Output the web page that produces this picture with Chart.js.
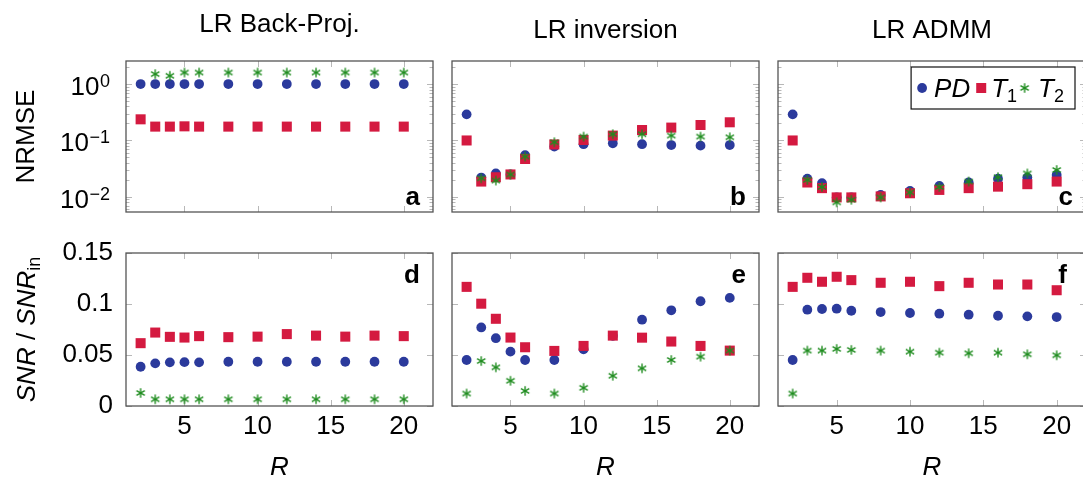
<!DOCTYPE html>
<html><head><meta charset="utf-8">
<script src="https://cdn.jsdelivr.net/npm/chart.js@4"></script>
<style>
html,body{margin:0;padding:0;background:#fff;overflow:hidden}
#wrap{position:relative;width:1083px;height:483px;overflow:hidden;background:#fff}
#wrap canvas{position:absolute;left:0;top:0}
</style></head><body><div id="wrap"></div>
<script>
// ---------------- data ----------------
const R = [2,3,4,5,6,8,10,12,14,16,18,20];
const xTicks = [5,10,15,20];
const nrmseTicks = [1, 0.1, 0.01];
const snrTicks = [0, 0.05, 0.1, 0.15];
const snrTickLabels = ['0','0.05','0.1','0.15'];
const columnTitles = ['LR Back-Proj.','LR inversion','LR ADMM'];
const panelLetters = [['a','b','c'],['d','e','f']];
const seriesNames = ['PD','T1','T2'];
const yTitleTop = 'NRMSE';
const xTitle = 'R';

// NRMSE (top row)
const bpNrmsePD = [1.0,1.0,1.0,1.0,1.0,1.0,1.0,1.0,1.0,1.0,1.0,1.0];
const bpNrmseT1 = [0.237,0.176,0.176,0.178,0.176,0.176,0.176,0.176,0.176,0.176,0.176,0.176];
const bpNrmseT2 = [null,1.5,1.4,1.6,1.6,1.6,1.6,1.6,1.6,1.6,1.6,1.6];

const invNrmsePD = [0.29,0.022,0.026,0.025,0.055,0.078,0.086,0.089,0.086,0.083,0.081,0.083];
const invNrmseT1 = [0.1,0.0187,0.0223,0.025,0.047,0.085,0.102,0.122,0.153,0.169,0.188,0.21];
const invNrmseT2 = [null,0.0214,0.0195,0.025,0.052,0.093,0.117,0.129,0.129,0.122,0.117,0.114];

const admmNrmsePD = [0.29,0.021,0.0175,0.0098,0.0098,0.0108,0.0128,0.0157,0.018,0.021,0.022,0.0245];
const admmNrmseT1 = [0.1,0.018,0.0143,0.0098,0.0098,0.0102,0.0116,0.0133,0.0143,0.0152,0.0168,0.0187];
const admmNrmseT2 = [null,0.02,0.015,0.008,0.0089,0.0098,0.012,0.015,0.0187,0.0223,0.026,0.030];

// SNR / SNR_in (bottom row)
const bpSnrPD = [0.0385,0.0418,0.0428,0.043,0.0428,0.0434,0.0434,0.0434,0.0434,0.0434,0.0434,0.0434];
const bpSnrT1 = [0.0616,0.072,0.0678,0.0671,0.0685,0.0675,0.068,0.0705,0.069,0.068,0.069,0.0685];
const bpSnrT2 = [0.0128,0.0066,0.0066,0.0066,0.0066,0.0066,0.0066,0.0066,0.0066,0.0066,0.0066,0.0066];

const invSnrPD = [0.0451,0.077,0.0665,0.0533,0.0451,0.0451,0.0556,0.0688,0.0846,0.0938,0.1027,0.106];
const invSnrT1 = [0.1168,0.1003,0.0855,0.0671,0.0576,0.054,0.0589,0.069,0.067,0.0632,0.0589,0.0543];
const invSnrT2 = [0.0122,0.0441,0.0379,0.0247,0.0148,0.0122,0.0178,0.0296,0.0369,0.0451,0.0484,0.0543];

const admmSnrPD = [0.0451,0.0944,0.0951,0.0954,0.0934,0.0921,0.0912,0.0905,0.0895,0.0885,0.0879,0.0872];
const admmSnrT1 = [0.1168,0.1257,0.1218,0.1267,0.1234,0.1208,0.1218,0.1175,0.1208,0.1191,0.1191,0.1135];
const admmSnrT2 = [0.0122,0.0543,0.0543,0.056,0.055,0.0543,0.0533,0.0523,0.0517,0.0523,0.0507,0.0497];

// ---------------- style / layout ----------------
const FONT = '"Liberation Sans", Arial, Helvetica, sans-serif';
const BLUE = '#2b3a9c', RED = '#d41a40', GREEN = '#1f8c1f';
const FRAME = '#555555', TICKC = '#b8b8b8';
const W = 1100, H = 483;
const colX = [[126,433],[452,759],[778,1086]];
const rowY = [[61,212],[253,406]];
const NRMSE_MIN = 0.0054, NRMSE_MAX = 2.56;
const XAXIS_H = 40;

Chart.defaults.font.family = FONT;

const table = [
  [[bpNrmsePD,bpNrmseT1,bpNrmseT2],[invNrmsePD,invNrmseT1,invNrmseT2],[admmNrmsePD,admmNrmseT1,admmNrmseT2]],
  [[bpSnrPD,bpSnrT1,bpSnrT2],[invSnrPD,invSnrT1,invSnrT2],[admmSnrPD,admmSnrT1,admmSnrT2]]
];

function makeAsterisk(color, arm, lw){
  const s = 12;
  const c = document.createElement('canvas'); c.width = s; c.height = s;
  const g = c.getContext('2d'); g.strokeStyle = color; g.lineWidth = lw;
  const cx = s/2, cy = s/2;
  for (const deg of [90, 30, 150]) {
    const r = deg*Math.PI/180;
    g.beginPath();
    g.moveTo(cx - arm*Math.cos(r), cy - arm*Math.sin(r));
    g.lineTo(cx + arm*Math.cos(r), cy + arm*Math.sin(r));
    g.stroke();
  }
  return c;
}
const STAR = makeAsterisk(GREEN, 4.8, 1.4);

function pts(arr){ return R.map((x,i)=>({x:x, y:arr[i]})); }

function drawSupLabel(ctx, xRight, py, exp){
  const supTxt = exp === 0 ? '0' : '\u2212' + Math.abs(exp);
  ctx.font = '18px ' + FONT;
  const ws = ctx.measureText(supTxt).width;
  ctx.fillText(supTxt, xRight - ws, py + 3);
  ctx.font = '26px ' + FONT;
  const wb = ctx.measureText('10').width;
  ctx.fillText('10', xRight - ws - wb - 0.5, py + 11);
}

function drawLegend(ctx, a){
  const cy = a.top + 27;
  ctx.font = 'italic 26px ' + FONT;
  const wPD = ctx.measureText('PD').width;
  const wT = ctx.measureText('T').width;
  ctx.font = '18px ' + FONT;
  const w1 = ctx.measureText('1').width;
  const total = 23 + wPD + 6 + 10 + 5 + wT + w1 + 3 + 9 + 9 + wT + w1 + 11;
  const bx = a.right - 11 - total, by = a.top + 6, bh = 42;
  ctx.fillStyle = '#fff'; ctx.fillRect(bx, by, total, bh);
  ctx.strokeStyle = '#111'; ctx.lineWidth = 1.2; ctx.strokeRect(bx, by, total, bh);
  let x = bx + 11;
  ctx.fillStyle = BLUE; ctx.beginPath(); ctx.arc(x, cy, 4.9, 0, Math.PI*2); ctx.fill();
  x = bx + 23;
  ctx.fillStyle = '#000'; ctx.font = 'italic 26px ' + FONT; ctx.textAlign='left'; ctx.textBaseline='alphabetic';
  ctx.fillText(seriesNames[0], x, cy + 9.3); x += wPD + 6;
  ctx.fillStyle = RED; ctx.fillRect(x, cy - 5, 10, 10); x += 10 + 5;
  ctx.fillStyle = '#000'; ctx.font = 'italic 26px ' + FONT; ctx.fillText('T', x, cy + 9.3); x += wT;
  ctx.font = '18px ' + FONT; ctx.fillText(seriesNames[1].slice(1), x, cy + 13.5); x += w1 + 3;
  ctx.drawImage(STAR, x + 4.5 - 6, cy - 6); x += 9 + 9;
  ctx.font = 'italic 26px ' + FONT; ctx.fillText('T', x, cy + 9.3); x += wT;
  ctx.font = '18px ' + FONT; ctx.fillText(seriesNames[2].slice(1), x, cy + 13.5);
}

function deco(row, col){
  return {
    id: 'deco' + row + col,
    beforeDatasetsDraw(chart){
      const ctx = chart.ctx, a = chart.chartArea, xs = chart.scales.x, ys = chart.scales.y;
      ctx.save();
      ctx.strokeStyle = TICKC; ctx.lineWidth = 1;
      ctx.beginPath();
      for (const v of xTicks) {
        const px = Math.round(xs.getPixelForValue(v)) + 0.5;
        ctx.moveTo(px, a.top); ctx.lineTo(px, a.top + 6);
        ctx.moveTo(px, a.bottom); ctx.lineTo(px, a.bottom - 6);
      }
      if (row === 0) {
        for (let e = -3; e <= 0; e++) for (let k = 1; k <= 9; k++) {
          const v = k * Math.pow(10, e);
          if (v < NRMSE_MIN || v > NRMSE_MAX) continue;
          const len = k === 1 ? 6 : 3.5;
          const py = Math.round(ys.getPixelForValue(v)) + 0.5;
          ctx.moveTo(a.left, py); ctx.lineTo(a.left + len, py);
          ctx.moveTo(a.right, py); ctx.lineTo(a.right - len, py);
        }
      } else {
        for (const v of snrTicks) {
          const py = Math.round(ys.getPixelForValue(v)) + 0.5;
          ctx.moveTo(a.left, py); ctx.lineTo(a.left + 6, py);
          ctx.moveTo(a.right, py); ctx.lineTo(a.right - 6, py);
        }
      }
      ctx.stroke();
      ctx.restore();
    },
    afterDraw(chart){
      const ctx = chart.ctx, a = chart.chartArea, ys = chart.scales.y;
      ctx.save();
      // frame
      ctx.strokeStyle = FRAME; ctx.lineWidth = 1.3;
      ctx.strokeRect(a.left, a.top, a.right - a.left, a.bottom - a.top);
      // panel letter
      ctx.fillStyle = '#000'; ctx.font = 'bold 26px ' + FONT;
      ctx.textAlign = 'right'; ctx.textBaseline = 'alphabetic';
      const letter = panelLetters[row][col];
      ctx.fillText(letter, a.right - (letter === 'f' ? 19 : 13), row === 0 ? a.bottom - 7 : a.top + 30);
      const cx = (a.left + a.right) / 2;
      ctx.textAlign = 'left';
      if (row === 0) {
        // column title
        ctx.font = '26px ' + FONT; ctx.textAlign = 'center';
        const t = columnTitles[col];
        ctx.fillText(t, cx, /j|g|p|q|y/.test(t) ? a.top - 29 : a.top - 23);
        ctx.textAlign = 'left';
        if (col === 0) {
          for (const v of nrmseTicks) {
            drawSupLabel(ctx, a.left - 16, ys.getPixelForValue(v), Math.round(Math.log10(v)));
          }
          ctx.save();
          ctx.translate(33.5, (a.top + a.bottom) / 2);
          ctx.rotate(-Math.PI/2);
          ctx.font = '26px ' + FONT; ctx.textAlign = 'center';
          ctx.fillText(yTitleTop, 0, 0);
          ctx.restore();
        }
        if (col === 2) drawLegend(ctx, a);
      } else {
        // x axis title
        ctx.font = 'italic 26px ' + FONT; ctx.textAlign = 'center';
        ctx.fillText(xTitle, cx, 475);
        ctx.textAlign = 'left';
        if (col === 0) {
          ctx.save();
          ctx.translate(35, (a.top + a.bottom) / 2);
          ctx.rotate(-Math.PI/2);
          const parts = [['SNR','italic 26px ',0],[' / ','26px ',0],['SNR','italic 26px ',0],['in','18px ',5]];
          let tot = 0;
          for (const p of parts) { ctx.font = p[1] + FONT; tot += ctx.measureText(p[0]).width; }
          let x = -tot / 2;
          for (const p of parts) { ctx.font = p[1] + FONT; ctx.fillText(p[0], x, p[2]); x += ctx.measureText(p[0]).width; }
          ctx.restore();
        }
      }
      ctx.restore();
    }
  };
}

const wrap = document.getElementById('wrap');
function makeChart(row, col){
  const cv = document.createElement('canvas');
  cv.width = W; cv.height = H; cv.style.width = W + 'px'; cv.style.height = H + 'px';
  wrap.appendChild(cv);
  const [L, Rr] = colX[col], [T, B] = rowY[row];
  const showX = row === 1, showY = (row === 1 && col === 0);
  const d = table[row][col];
  const datasets = [
    {label: seriesNames[0], data: pts(d[0]), pointStyle: 'circle', pointRadius: 4.9, pointBackgroundColor: BLUE, pointBorderWidth: 0, order: 3},
    {label: seriesNames[1], data: pts(d[1]), pointStyle: 'rect', pointRadius: 7.1, pointBackgroundColor: RED, pointBorderWidth: 0, order: 2},
    {label: seriesNames[2], data: pts(d[2]), pointStyle: STAR, pointRadius: 5, pointBackgroundColor: GREEN, pointBorderWidth: 0, order: 1}
  ];
  const yScale = row === 0 ? {
    type: 'logarithmic', min: NRMSE_MIN, max: NRMSE_MAX, display: false
  } : {
    type: 'linear', min: 0, max: 0.15, display: showY,
    grid: {display: false, drawTicks: false}, border: {display: false},
    afterBuildTicks: s => { s.ticks = snrTicks.map(v => ({value: v})); },
    afterFit: s => { if (showY) s.width = L; },
    ticks: {padding: 13, color: '#000', font: {size: 26}, callback: v => snrTickLabels[snrTicks.indexOf(v)]}
  };
  new Chart(cv, {
    type: 'scatter',
    data: {datasets},
    options: {
      responsive: false, animation: false, events: [], devicePixelRatio: 1,
      layout: {padding: {left: showY ? 0 : L, right: W - Rr, top: T, bottom: showX ? H - B - XAXIS_H : H - B}},
      scales: {
        x: {
          type: 'linear', min: 1, max: 22, display: showX, position: 'bottom',
          grid: {display: false, drawTicks: false}, border: {display: false},
          afterBuildTicks: s => { s.ticks = xTicks.map(v => ({value: v})); },
          afterFit: s => { if (showX) s.height = XAXIS_H; },
          ticks: {padding: 5, color: '#000', font: {size: 26}, autoSkip: false, maxRotation: 0}
        },
        y: yScale
      },
      plugins: {legend: {display: false}, tooltip: {enabled: false}, title: {display: false}}
    },
    plugins: [deco(row, col)]
  });
}
for (let r = 0; r < 2; r++) for (let c = 0; c < 3; c++) makeChart(r, c);
</script>
</body></html>
